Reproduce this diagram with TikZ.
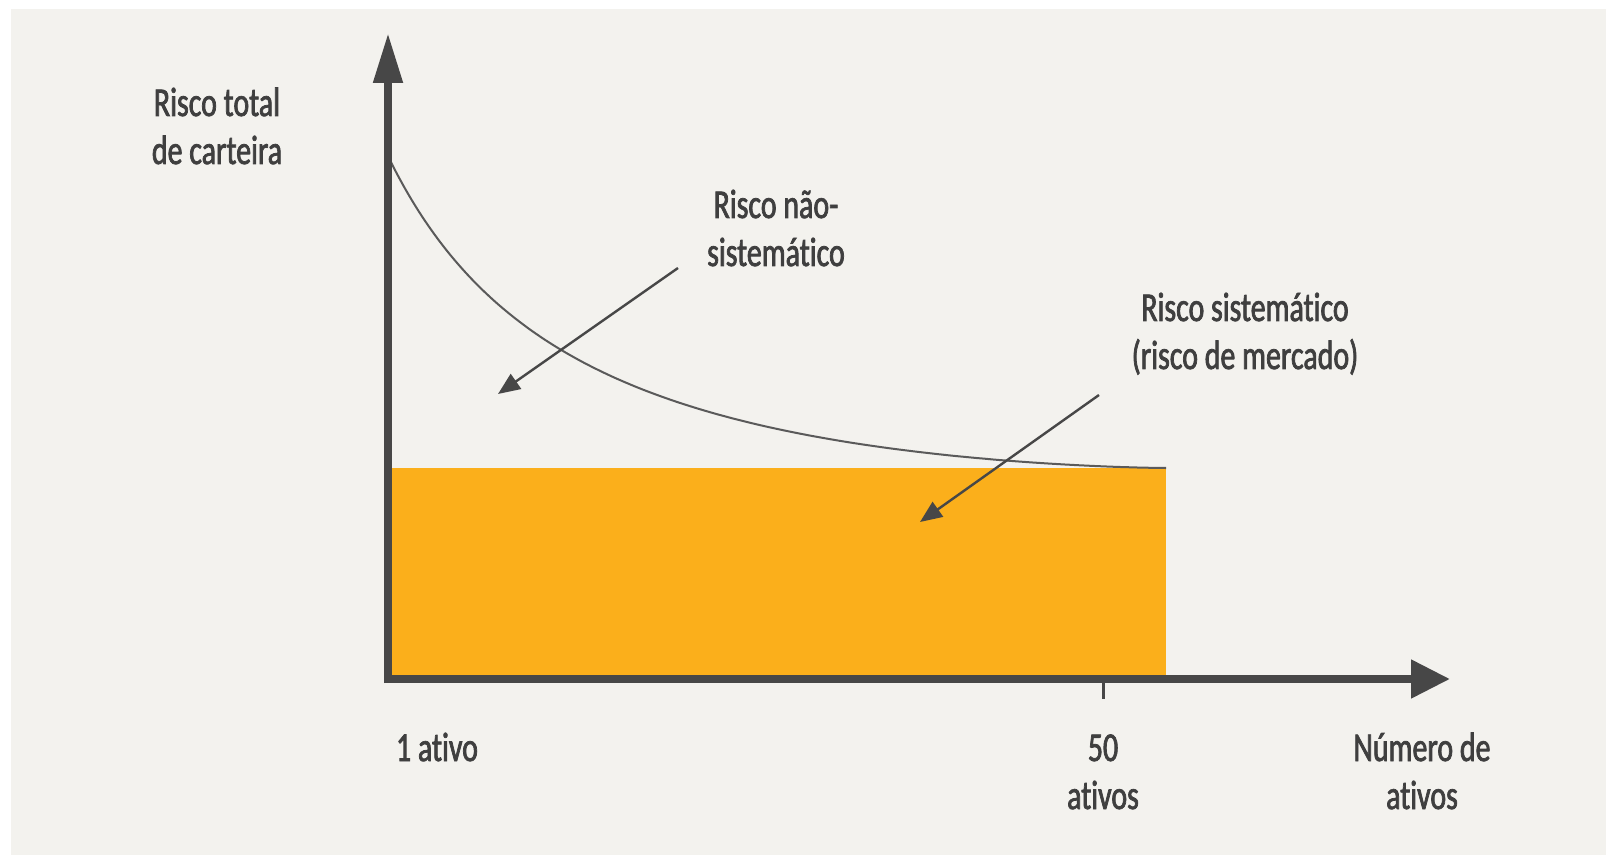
\documentclass[tikz,border=0pt]{standalone}
\usepackage{fontspec}
\setmainfont{Carlito}[FakeStretch=0.73, FakeBold=1.8, Ligatures=NoCommon]
\usetikzlibrary{arrows.meta,math}
\definecolor{panel}{HTML}{F3F2EE}
\definecolor{axisgray}{HTML}{474747}
\definecolor{curvegray}{HTML}{5A5A5A}
\definecolor{riskorange}{HTML}{FBAF1B}
\definecolor{labelgray}{HTML}{3F3F3F}

\begin{document}
\begin{tikzpicture}[x=0.5pt,y=-0.5pt,
    lbl/.style={font=\fontsize{20.5}{24}\selectfont, text=labelgray, align=center, anchor=base, inner sep=0pt},
    pointer/.style={draw=axisgray, line width=1.2pt, -{Triangle[length=11pt,width=9pt]}}]
      \tikzmath{\xo = 388; \yo = 679; \xr = 1166; \ys = 468; \xt = 1103;}
      \useasboundingbox (0,0) rectangle (1606,855);
      \fill[panel] (11,9) rectangle (1606,855);
      \fill[riskorange] (\xo,\ys) rectangle (\xr,\yo);
      \draw[curvegray, line width=1pt] plot[domain=\xo:1165, samples=100, smooth] (\x,{\ys-3069.6*(((\xr-\x)/100)^1.5/(\x-174.5))}) -- (\xr,\ys);
      \draw[axisgray, line width=4pt, -{Triangle[length=25pt,width=14pt]}] (\xo,683) -- (\xo,33);
      \draw[axisgray, line width=4pt, -{Triangle[length=19.5pt,width=18.5pt]}] (384,\yo) -- (1450,\yo);
      \draw[axisgray, line width=1.5pt] (\xt,\yo) -- (\xt,699);
      % two-line labels sit on the baseline of their last line
      \node[lbl] (ylabel) at (217,164) {Risco total\\de carteira};
      \node[lbl] (naosis) at (776,266) {Risco não-\\sistemático};
      \node[lbl] (sis) at (1245,369) {Risco sistemático\\(risco de mercado)};
      \node[lbl] (um) at (437,761) {1 ativo};
      \node[lbl] (cinquenta) at (\xt,809) {50\\ativos};
      \node[lbl] (xlabel) at (1422,809) {Número de\\ativos};
      \coordinate (naosis tail) at (678,268);
      \coordinate (naosis tip) at (498,394);
      \coordinate (sis tail) at (1099,395);
      \coordinate (sis tip) at (920,522);
      \draw[pointer] (naosis tail) -- (naosis tip);
      \draw[pointer] (sis tail) -- (sis tip);
    \end{tikzpicture}
\end{document}
